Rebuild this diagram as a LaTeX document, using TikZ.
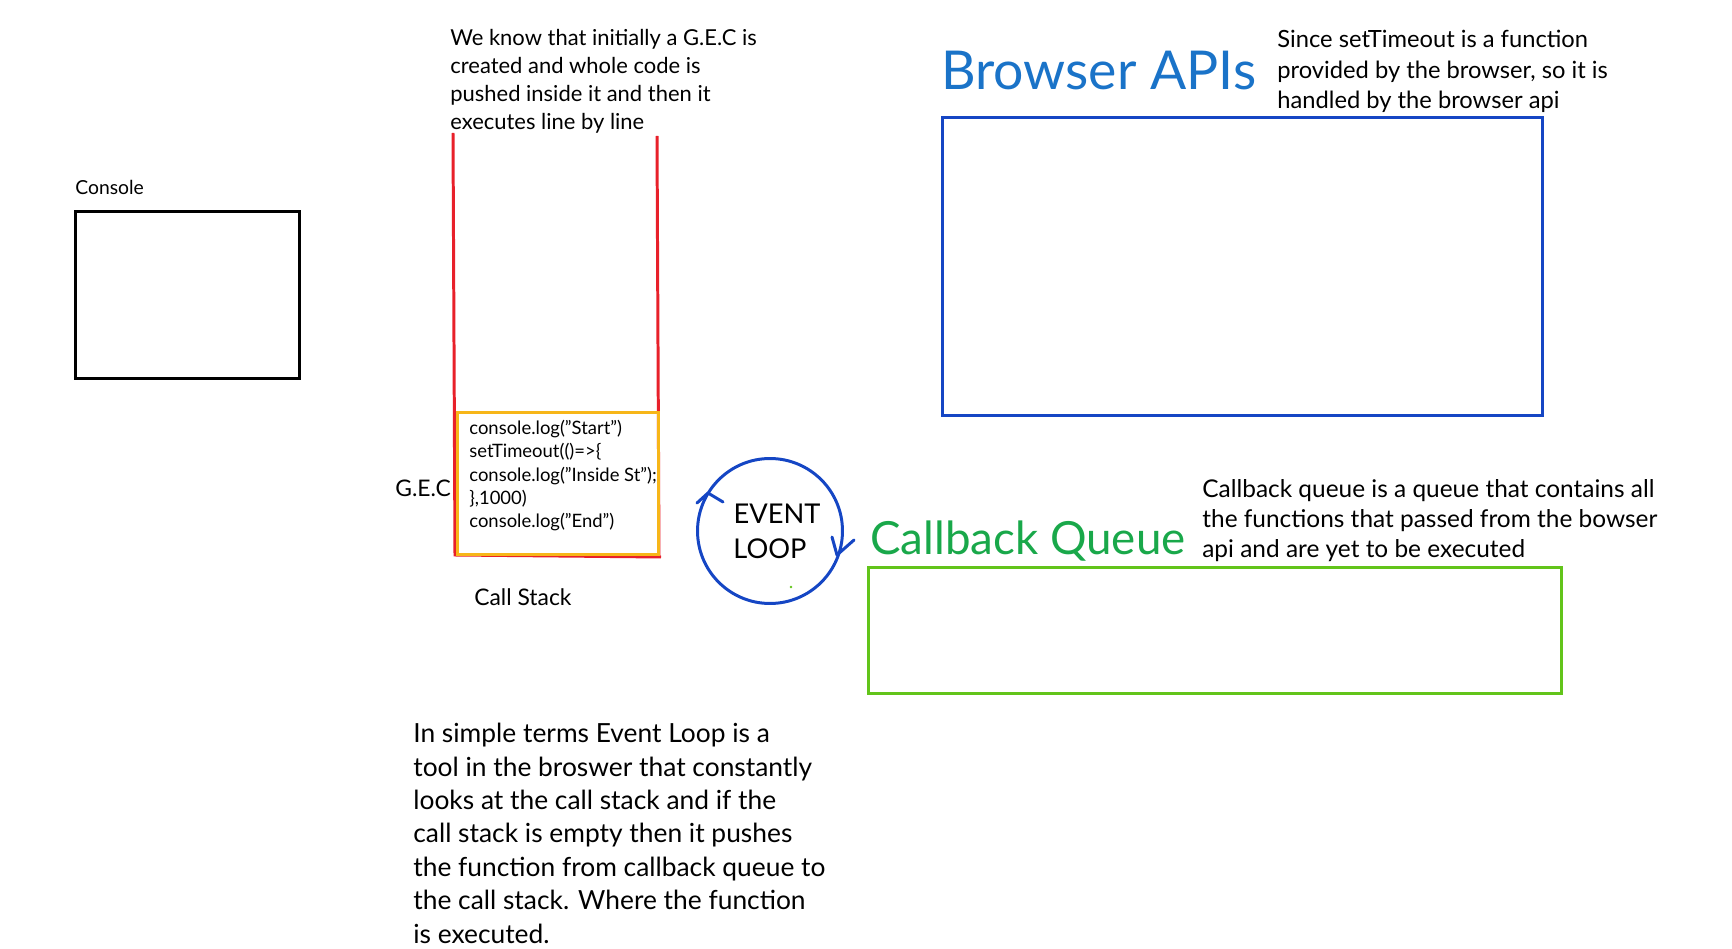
\documentclass[tikz,border=0pt]{standalone}
\usepackage{fontspec}
\setmainfont{Lato}
\definecolor{stackred}{HTML}{E8202A}
\definecolor{gecyellow}{HTML}{F7B618}
\definecolor{apiblue}{HTML}{1546C4}
\definecolor{titleblue}{HTML}{1A73C8}
\definecolor{queuegreen}{HTML}{19A84A}
\definecolor{boxgreen}{HTML}{62C41A}
\tikzset{
  note/.style={anchor=base west, align=left, inner sep=0pt},
  panel/.style={draw, line width=1.7pt, inner sep=0pt},
}

\begin{document}
\begin{tikzpicture}[x=0.02cm, y=-0.02cm]
    \useasboundingbox (0,0) rectangle (1732,949);

    % Console
    \node[note, font=\fontsize{11}{15}\selectfont] (consolelabel) at (75,195) {Console};
    \node[panel, minimum width=4.5cm, minimum height=3.36cm] (console) at (187.5,295) {};

    % Call stack (notes are placed by the baseline of their last line)
    \draw[stackred, line width=1.7pt] (453,133) -- (455,555) -- (661,557);
    \draw[stackred, line width=1.7pt] (657,136) -- (659,557);
    \node[panel, draw=gecyellow, minimum width=4.04cm, minimum height=2.86cm] (gec) at (558,483.5) {};
    \node[note, font=\fontsize{10.5}{13.3}\selectfont] (code) at (469,528)
        {console.log("Start")\\setTimeout(()=>\{\\console.log("Inside St");\\\},1000)\\console.log("End")};
    \node[note, font=\fontsize{13}{15}\selectfont] (geclabel) at (395,497) {G.E.C};
    \node[note, font=\fontsize{13}{15}\selectfont] (stacklabel) at (474,605) {Call Stack};
    \node[note, font=\fontsize{12.5}{16.1}\selectfont] (gecnote) at (450,130)
        {We know that initially a G.E.C is\\created and whole code is\\pushed inside it and then it\\executes line by line};

    % Event loop
    \node[circle, draw=apiblue, line width=1.7pt, minimum size=2.9cm, align=center,
          font=\fontsize{15.5}{20}\selectfont] (loop) at (770,531) {\hspace{8pt}EVENT\\LOOP};
    \draw[apiblue, line width=1.7pt, line cap=round, line join=round] (697,503) -- (708,493) -- (723,502);
    \draw[apiblue, line width=1.7pt, line cap=round, line join=round] (832,537) -- (837,555) -- (854,540);
    \fill[boxgreen] (791,587) circle (1.3);

    % Browser APIs
    \node[note, text=titleblue, font=\fontsize{30.5}{30}\selectfont] (apititle) at (941,90) {Browser APIs};
    \node[panel, draw=apiblue, minimum width=12.02cm, minimum height=5.98cm] (api) at (1242.5,266.5) {};
    \node[note, font=\fontsize{13.5}{17.6}\selectfont] (apinote) at (1277,109)
        {Since setTimeout is a function\\provided by the browser, so it is\\handled by the browser api};

    % Callback queue
    \node[note, text=queuegreen, font=\fontsize{26}{30}\selectfont] (queuetitle) at (870,555) {Callback Queue};
    \node[panel, draw=boxgreen, minimum width=13.88cm, minimum height=2.54cm] (queue) at (1215,630.5) {};
    \node[note, font=\fontsize{13.9}{17.3}\selectfont] (queuenote) at (1202,558)
        {Callback queue is a queue that contains all\\the functions that passed from the bowser\\api and are yet to be executed};

    % Explanation
    \node[note, font=\fontsize{15}{19}\selectfont] (loopnote) at (413,943)
        {In simple terms Event Loop is a\\tool in the broswer that constantly\\looks at the call stack and if the\\call stack is empty then it pushes\\the function from callback queue to\\the call stack. Where the function\\is executed.};

\end{tikzpicture}
\end{document}
